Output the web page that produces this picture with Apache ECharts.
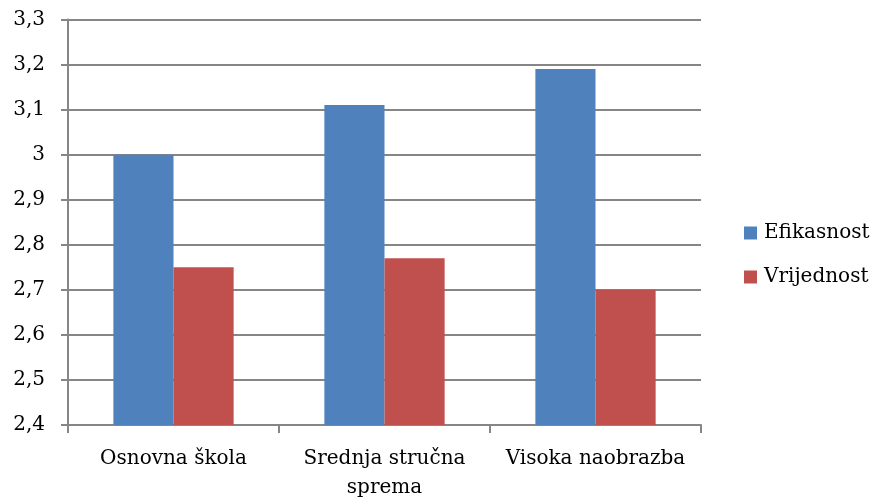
<!DOCTYPE html>
<html><head><meta charset="utf-8">
<script src="https://cdn.jsdelivr.net/npm/echarts@6/dist/echarts.min.js"></script>
<style>html,body{margin:0;padding:0;background:#fff}#c{width:879px;height:504px}</style>
</head><body><div id="c"></div>
<script>
const categories = ['Osnovna škola', 'Srednja stručna\nsprema', 'Visoka naobrazba'];
const efikasnost = [3.00, 3.11, 3.19];
const vrijednost = [2.75, 2.77, 2.70];
const seriesNames = ['Efikasnost', 'Vrijednost'];

const font = "'DejaVu Serif', serif";
const chart = echarts.init(document.getElementById('c'));
chart.setOption({
  animation: false,
  backgroundColor: '#fff',
  textStyle: { fontFamily: font },
  grid: { left: 68, right: 178, top: 19.5, bottom: 79, containLabel: false },
  legend: {
    orient: 'vertical', left: 744, top: 223, padding: 0, itemWidth: 13, itemHeight: 13, itemGap: 24,
    icon: 'rect',
    textStyle: { fontFamily: font, fontSize: 20, color: '#000', padding: [0, 0, 0, 2] },
    data: seriesNames
  },
  xAxis: {
    type: 'category', data: categories,
    axisLine: { lineStyle: { color: '#868686', width: 2 } },
    axisTick: { show: true, interval: 0, length: 8, lineStyle: { color: '#868686', width: 2 } },
    axisLabel: { interval: 0, hideOverlap: false, fontFamily: font, fontSize: 20, color: '#000', margin: 19, lineHeight: 29 }
  },
  yAxis: {
    type: 'value', min: 2.4, max: 3.3, interval: 0.1,
    axisLine: { show: true, lineStyle: { color: '#868686', width: 2 } },
    axisTick: { show: true, length: 7, lineStyle: { color: '#868686', width: 2 } },
    splitLine: { lineStyle: { color: '#868686', width: 2 } },
    axisLabel: {
      fontFamily: font, fontSize: 20, color: '#000', margin: 23,
      formatter: v => (Math.round(v * 10) / 10).toString().replace('.', ',')
    }
  },
  series: [
    { name: seriesNames[0], type: 'bar', data: efikasnost, barGap: '0%', barCategoryGap: '43%', itemStyle: { color: '#4F81BD' } },
    { name: seriesNames[1], type: 'bar', data: vrijednost, barGap: '0%', barCategoryGap: '43%', itemStyle: { color: '#C0504D' } }
  ]
});
</script></body></html>
